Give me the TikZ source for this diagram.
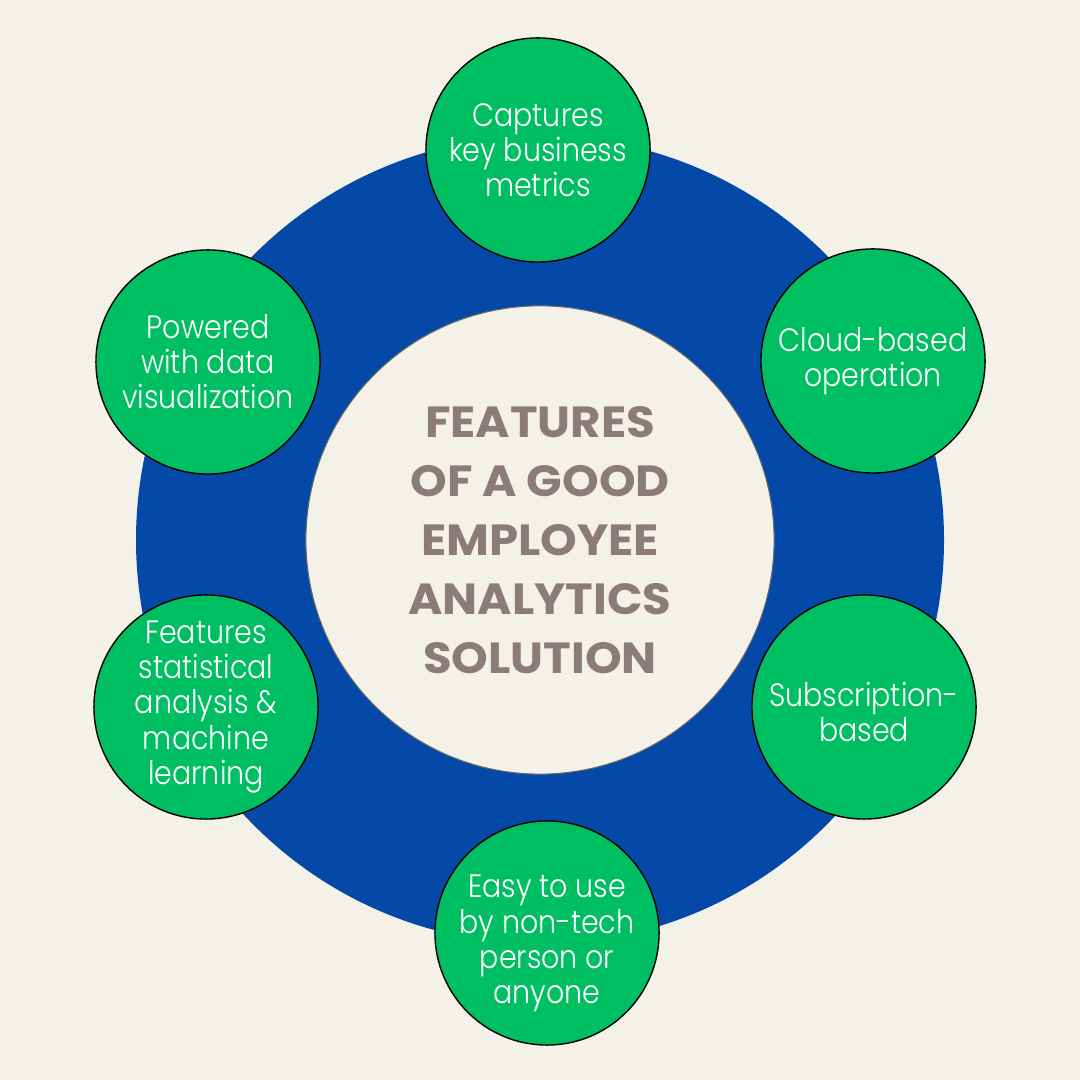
\documentclass[tikz,border=0pt]{standalone}
\usepackage{fontspec}
\setmainfont{Poppins}
\newfontfamily\featfont[FakeStretch=0.88]{Poppins Light}
\newfontfamily\titlefont[FakeStretch=1.07]{Poppins Bold}
\usepackage{tikz}
\usetikzlibrary{positioning}

\definecolor{cream}{HTML}{F4F1E8}
\definecolor{ringblue}{HTML}{0449A8}
\definecolor{featgreen}{HTML}{00BF63}
\definecolor{titlegray}{HTML}{8C7B7B}

\begin{document}
\begin{tikzpicture}[
        x=0.01cm, y=0.01cm,
        feature/.style={circle, draw=black, line width=0.4pt, fill=featgreen, minimum size=2.24cm, inner sep=0pt},
        featuretext/.style={align=center, text=white, inner sep=0pt, font=\featfont\fontsize{9.2}{10}\selectfont},
        hub/.style={circle, draw=black!60, line width=0.3pt, fill=cream, minimum size=4.68cm, inner sep=0pt},
        hubtext/.style={align=center, text=titlegray, inner sep=0pt, font=\titlefont\fontsize{12.4}{16.8}\selectfont}
    ]

    \fill[cream] (0,0) rectangle (1080,1080);
    \useasboundingbox (0,0) rectangle (1080,1080);

    % blue ring
    \fill[ringblue] (540,540) circle[radius=404];
    \node[hub] (hubdisc) at (540,540) {};
    \node[hubtext] (title) at (hubdisc) {FEATURES\\OF A GOOD\\EMPLOYEE\\ANALYTICS\\SOLUTION};

    \node[feature] (metrics) at (538,930) {};
    \node[feature] (cloud) at (873,719) {};
    \node[feature] (subscr) at (864,373) {};
    \node[feature] (easy) at (547,147) {};
    \node[feature] (stats) at (206,373) {};
    \node[feature] (dataviz) at (208,718) {};

    \node[featuretext] at (metrics) {Captures\\key business\\metrics};
    \node[featuretext] at (cloud) {Cloud-based\\operation};
    \node[featuretext, yshift=-1.4pt] at (subscr) {Subscription-\\based};
    \node[featuretext, yshift=-3pt] at (easy) {Easy to use\\by non-tech\\person or\\anyone};
    \node[featuretext] at (stats) {Features\\statistical\\analysis \&\\machine\\learning};
    \node[featuretext] at (dataviz) {Powered\\with data\\visualization};

\end{tikzpicture}
\end{document}
